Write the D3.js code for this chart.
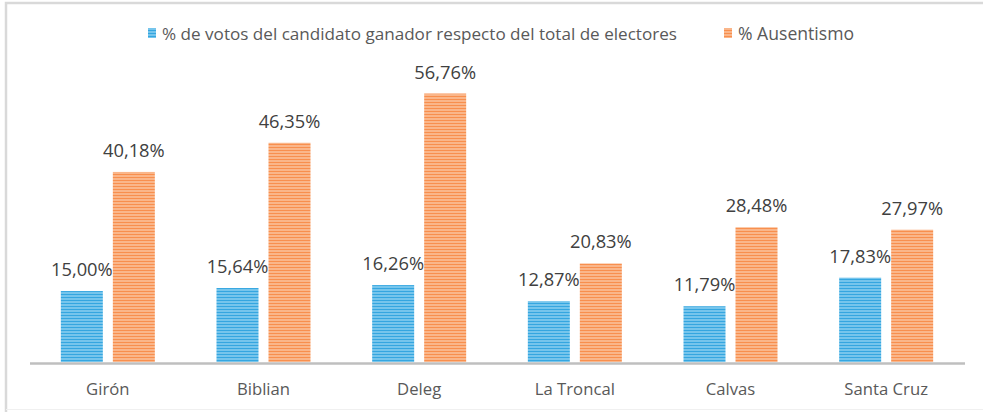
<!DOCTYPE html>
<html>
<head>
<meta charset="utf-8">
<script src="https://cdn.jsdelivr.net/npm/d3@7"></script>
<style>
html,body{margin:0;padding:0;background:#fff;}
svg{display:block;font-family:"Open Sans", sans-serif;}
</style>
</head>
<body>
<svg id="chart" width="983" height="412"></svg>
<script>
const categories = ["Girón", "Biblian", "Deleg", "La Troncal", "Calvas", "Santa Cruz"];
const seriesNames = ["% de votos del candidato ganador respecto del total de electores", "% Ausentismo"];
const votos = [15.00, 15.64, 16.26, 12.87, 11.79, 17.83];
const ausentismo = [40.18, 46.35, 56.76, 20.83, 28.48, 27.97];
const labelVotos = ["15,00%", "15,64%", "16,26%", "12,87%", "11,79%", "17,83%"];
const labelAus = ["40,18%", "46,35%", "56,76%", "20,83%", "28,48%", "27,97%"];

const svg = d3.select("#chart");

// frame
svg.append("path").attr("d", "M6,412 L6,3 L983,3").attr("fill","none").attr("stroke","#d9d9d9").attr("stroke-width",2.5);
svg.append("line").attr("x1",6).attr("x2",983).attr("y1",409.5).attr("y2",409.5).attr("stroke","#f0f0f0").attr("stroke-width",1);

// patterns
const defs = svg.append("defs");
function stripes(id, light, dark) {
  const p = defs.append("pattern").attr("id", id).attr("patternUnits","userSpaceOnUse").attr("width", 4).attr("height", 3);
  p.append("rect").attr("width",4).attr("height",3).attr("fill", light);
  p.append("rect").attr("width",4).attr("height",1).attr("fill", dark);
}
stripes("pBlue", "#76c5ec", "#35a6e0");
stripes("pOrange", "#fab68a", "#f88f4e");

const x0 = d3.scaleBand().domain(categories).range([30, 964]).paddingInner(0).paddingOuter(0);
const y = d3.scaleLinear().domain([0, 60]).range([362, 362 - 4.73 * 60]);
const barW = 42, gap = 10;

const groups = svg.append("g").selectAll("g").data(categories).join("g")
  .attr("transform", d => `translate(${x0(d) + x0.bandwidth()/2},0)`);

const series = [
  {vals: votos, labels: labelVotos, fill: "url(#pBlue)", off: -gap/2 - barW},
  {vals: ausentismo, labels: labelAus, fill: "url(#pOrange)", off: gap/2}
];

series.forEach(s => {
  groups.append("rect")
    .attr("x", s.off)
    .attr("width", barW)
    .attr("y", (d,i) => y(s.vals[i]))
    .attr("height", (d,i) => y(0) - y(s.vals[i]))
    .attr("fill", s.fill);
  groups.append("text")
    .attr("x", s.off + barW/2)
    .attr("y", (d,i) => y(s.vals[i]) - 15)
    .attr("text-anchor","middle")
    .attr("font-size", 18.3)
    .attr("fill", "#404040")
    .text((d,i) => s.labels[i]);
});

// axis
svg.append("line").attr("x1",30).attr("x2",965).attr("y1",363.5).attr("y2",363.5).attr("stroke","#bfbfbf").attr("stroke-width",2.5);

const xAxis = d3.axisBottom(x0).tickSize(0).tickPadding(0);
const ax = svg.append("g").attr("transform","translate(0,364)").call(xAxis);
ax.select(".domain").remove();
ax.selectAll("text").attr("font-size",16.7).attr("fill","#595959").attr("dy", 0).attr("y", 31).attr("font-family","'Open Sans', sans-serif");

// legend
const leg = svg.append("g");
const legItems = [
  {x: 148, name: seriesNames[0], fill: "url(#pBlue)", size: 17.1},
  {x: 724, name: seriesNames[1], fill: "url(#pOrange)", size: 17.6}
];
legItems.forEach(l => {
  leg.append("rect").attr("x", l.x).attr("y", 28).attr("width", 8).attr("height", 10).attr("fill", l.fill);
  leg.append("text").attr("x", l.x + 14).attr("y", 39.5).attr("font-size", l.size).attr("fill","#595959").text(l.name);
});
</script>
</body>
</html>
